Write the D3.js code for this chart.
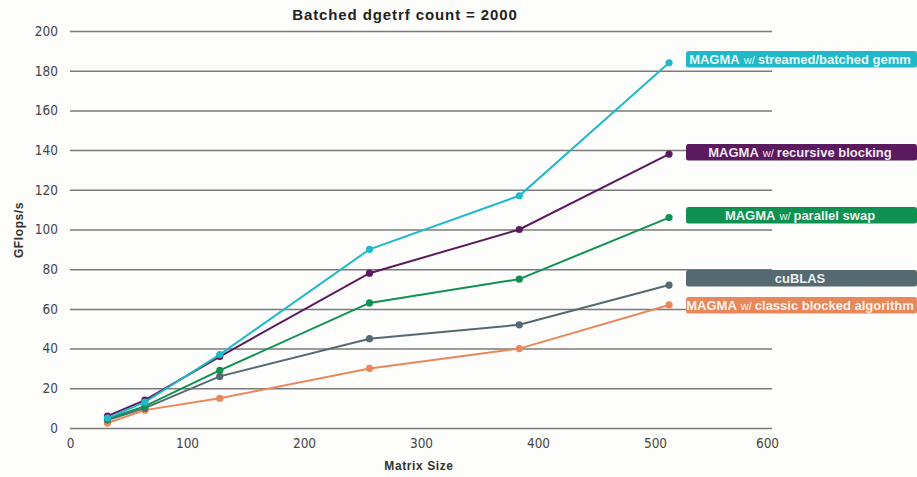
<!DOCTYPE html>
<html>
<head>
<meta charset="utf-8">
<script src="https://cdn.jsdelivr.net/npm/d3@7"></script>
<style>
  body { margin: 0; background: #fdfdfc; }
  svg { display: block; }
</style>
</head>
<body>
<div class="chart"></div>
<script>
// data
var sizes = [32, 64, 128, 256, 384, 512];
var gemm = [5, 13, 37, 90, 117, 184];
var recursive = [6, 14, 36, 78, 100, 138];
var swap = [4.5, 11, 29, 63, 75, 106];
var cublas = [4, 10, 26, 45, 52, 72];
var classic = [2.5, 9, 15, 30, 40, 62];
var xTicks = [0, 100, 200, 300, 400, 500, 600];
var yTicks = [0, 20, 40, 60, 80, 100, 120, 140, 160, 180, 200];

var series = [
  { values: classic, color: '#e8875a', pre: 'MAGMA', w: 'w/', post: 'classic blocked algorithm', box: 297 },
  { values: cublas, color: '#556970', pre: '', w: '', post: 'cuBLAS', box: 270 },
  { values: swap, color: '#0f9152', pre: 'MAGMA', w: 'w/', post: 'parallel swap', box: 207 },
  { values: recursive, color: '#5b1a5d', pre: 'MAGMA', w: 'w/', post: 'recursive blocking', box: 144 },
  { values: gemm, color: '#20b9c9', pre: 'MAGMA', w: 'w/', post: 'streamed/batched gemm', box: 51 }
];

var width = 917, height = 477;
var x0 = 70, x1 = 772, y0 = 428, y1 = 31;

var svg = d3.select('.chart').append('svg')
  .attr('width', width)
  .attr('height', height);

var x = d3.scaleLinear().domain([0, 600]).range([x0, x1]);
var y = d3.scaleLinear().domain([0, 200]).range([y0, y1]);

var tickFont = '"DejaVu Sans Condensed", "Liberation Sans", Arial, sans-serif';
var boldFont = '"Liberation Sans", Arial, sans-serif';

// grid lines
var yAxis = d3.axisLeft(y).tickValues(yTicks).tickSize(-(x1 - x0)).tickPadding(12);
var gy = svg.append('g').attr('transform', 'translate(' + x0 + ',0)').call(yAxis);
gy.select('.domain').remove();
gy.selectAll('line').attr('stroke', '#7a7a7a').attr('stroke-width', 1.5);
gy.selectAll('text')
  .attr('fill', '#444')
  .style('font-family', tickFont)
  .style('font-size', '13.5px');

var xAxis = d3.axisBottom(x).tickValues(xTicks).tickSize(0).tickPadding(10);
var gx = svg.append('g').attr('transform', 'translate(0,' + y0 + ')').call(xAxis);
gx.select('.domain').remove();
gx.selectAll('text')
  .attr('fill', '#444')
  .style('font-family', tickFont)
  .style('font-size', '13.5px')
  .attr('dx', function (d) { return d === 600 ? -5 : 0; });

// title and axis labels
svg.append('text')
  .attr('x', 405).attr('y', 20)
  .attr('text-anchor', 'middle')
  .style('font-family', boldFont)
  .style('font-weight', 'bold')
  .style('font-size', '15px')
  .style('letter-spacing', '0.9px')
  .attr('fill', '#222')
  .text('Batched dgetrf count = 2000');

svg.append('text')
  .attr('x', 419).attr('y', 470)
  .attr('text-anchor', 'middle')
  .style('font-family', boldFont)
  .style('font-weight', 'bold')
  .style('font-size', '12px')
  .style('letter-spacing', '0.6px')
  .attr('fill', '#333')
  .text('Matrix Size');

svg.append('text')
  .attr('transform', 'translate(23,230) rotate(-90)')
  .attr('text-anchor', 'middle')
  .style('font-family', boldFont)
  .style('font-weight', 'bold')
  .style('font-size', '12px')
  .style('letter-spacing', '0.6px')
  .attr('fill', '#333')
  .text('GFlops/s');

// lines and points
var line = d3.line()
  .x(function (d, i) { return x(sizes[i]); })
  .y(function (d) { return y(d); });

series.forEach(function (s) {
  svg.append('path')
    .attr('d', line(s.values))
    .attr('fill', 'none')
    .attr('stroke', s.color)
    .attr('stroke-width', 2);

  svg.selectAll(null)
    .data(s.values)
    .enter()
    .append('circle')
    .attr('cx', function (d, i) { return x(sizes[i]); })
    .attr('cy', function (d) { return y(d); })
    .attr('r', 3.6)
    .attr('fill', s.color);
});

// label boxes
series.forEach(function (s) {
  var g = svg.append('g');
  g.append('rect')
    .attr('x', 686).attr('y', s.box)
    .attr('width', 231).attr('height', 16.5)
    .attr('rx', 2.5)
    .attr('fill', s.color);
  var t = g.append('text')
    .attr('x', 800).attr('y', s.box + 13)
    .attr('text-anchor', 'middle')
    .attr('fill', '#fff')
    .attr('fill-opacity', 0.92)
    .style('font-family', boldFont)
    .style('font-size', '13px')
    .style('font-weight', 'bold');
  if (s.pre) {
    t.append('tspan').text(s.pre);
    t.append('tspan').attr('dx', 4).style('font-weight', 'normal').style('font-size', '11px').text(s.w);
    t.append('tspan').attr('dx', 3).text(s.post);
  } else {
    t.text(s.post);
  }
});
</script>
</body>
</html>
